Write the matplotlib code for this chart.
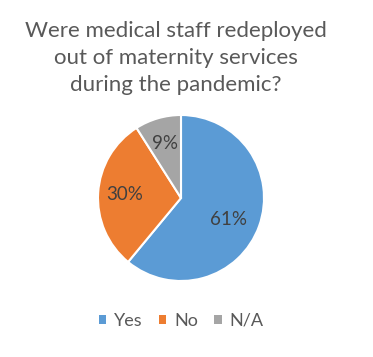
import matplotlib.pyplot as plt
from matplotlib.patches import Patch

# Data
labels = ['Yes', 'No', 'N/A']
values = [61, 30, 9]
colors = ['#5B9BD5', '#ED7D31', '#A5A5A5']
title = 'Were medical staff redeployed\nout of maternity services\nduring the pandemic?'

plt.rcParams['font.family'] = ['Lato', 'DejaVu Sans']

W, H = 373, 357
fig = plt.figure(figsize=(W / 100, H / 100), dpi=100)

# pie centre and radius in pixels
cx, cy, r = 181, 198, 83
ax = fig.add_axes([(cx - r) / W, (H - cy - r) / H, 2 * r / W, 2 * r / H])
wedges, texts, autotexts = ax.pie(values, colors=colors, startangle=90, counterclock=False,
                                  autopct='%1.0f%%', pctdistance=0.68,
                                  wedgeprops=dict(edgecolor='white', linewidth=1.5),
                                  textprops=dict(color='#404040', fontsize=13.5))
# nudge the big label slightly toward the centre, like the original
x, y = autotexts[0].get_position()
autotexts[0].set_position((x * 0.9, y * 1.1))
ax.set_xlim(-1, 1)
ax.set_ylim(-1, 1)
ax.set_aspect('equal')
ax.axis('off')

fig.text(0.472, 1 - 58 / H, title, ha='center', va='center', fontsize=16,
         color='#595959', linespacing=1.45)

handles = [Patch(facecolor=c, label=l) for c, l in zip(colors, labels)]
fig.legend(handles=handles, loc='center', bbox_to_anchor=(0.486, 1 - 321 / H), ncol=3,
           frameon=False, fontsize=13, handlelength=0.4, handleheight=0.4,
           handletextpad=0.45, columnspacing=0.9, labelcolor='#595959')

fig.savefig('out.png', dpi=100)
